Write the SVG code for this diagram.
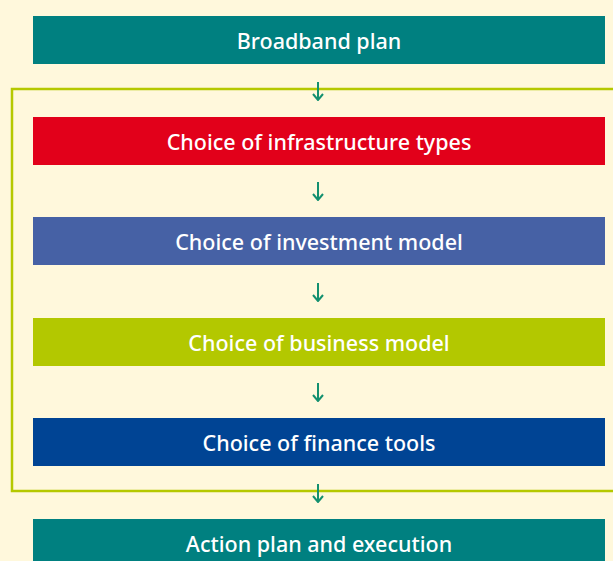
<svg xmlns="http://www.w3.org/2000/svg" width="613" height="561" viewBox="0 0 613 561">
<defs>
<style>
.lbl{font-family:"Noto Sans","Open Sans","Liberation Sans",sans-serif;font-size:21.5px;font-weight:500;fill:#ffffff;text-anchor:middle}
.arr{stroke:#13906f;stroke-width:2;fill:none}
</style>
<marker id="ah" viewBox="0 0 12 12" refX="11" refY="6" markerWidth="12" markerHeight="12" markerUnits="userSpaceOnUse" orient="auto">
<path d="M5,1 L11,6 L5,11" stroke="#13906f" stroke-width="2" fill="none"/>
</marker>
</defs>
<rect width="613" height="561" fill="#fff8dc"/>
<rect x="12" y="89" width="610" height="402" fill="none" stroke="#b5c800" stroke-width="2.5"/>
<g id="n1"><rect x="33" y="16" width="572" height="48" fill="#008080"/><text class="lbl" x="319" y="49">Broadband plan</text></g>
<g id="n2"><rect x="33" y="117" width="572" height="48" fill="#e2001a"/><text class="lbl" x="319" y="150">Choice of infrastructure types</text></g>
<g id="n3"><rect x="33" y="217" width="572" height="48" fill="#4661a5"/><text class="lbl" x="319" y="250">Choice of investment model</text></g>
<g id="n4"><rect x="33" y="318" width="572" height="48" fill="#b3c800"/><text class="lbl" x="319" y="351">Choice of business model</text></g>
<g id="n5"><rect x="33" y="418" width="572" height="48" fill="#004494"/><text class="lbl" x="319" y="451">Choice of finance tools</text></g>
<g id="n6"><rect x="33" y="519" width="572" height="48" fill="#008080"/><text class="lbl" x="319" y="552">Action plan and execution</text></g>
<g id="connectors">
<line class="arr" x1="318" y1="82" x2="318" y2="100" marker-end="url(#ah)"/>
<line class="arr" x1="318" y1="182" x2="318" y2="200" marker-end="url(#ah)"/>
<line class="arr" x1="318" y1="283" x2="318" y2="301" marker-end="url(#ah)"/>
<line class="arr" x1="318" y1="383" x2="318" y2="401" marker-end="url(#ah)"/>
<line class="arr" x1="318" y1="484" x2="318" y2="502" marker-end="url(#ah)"/>
</g>
</svg>
